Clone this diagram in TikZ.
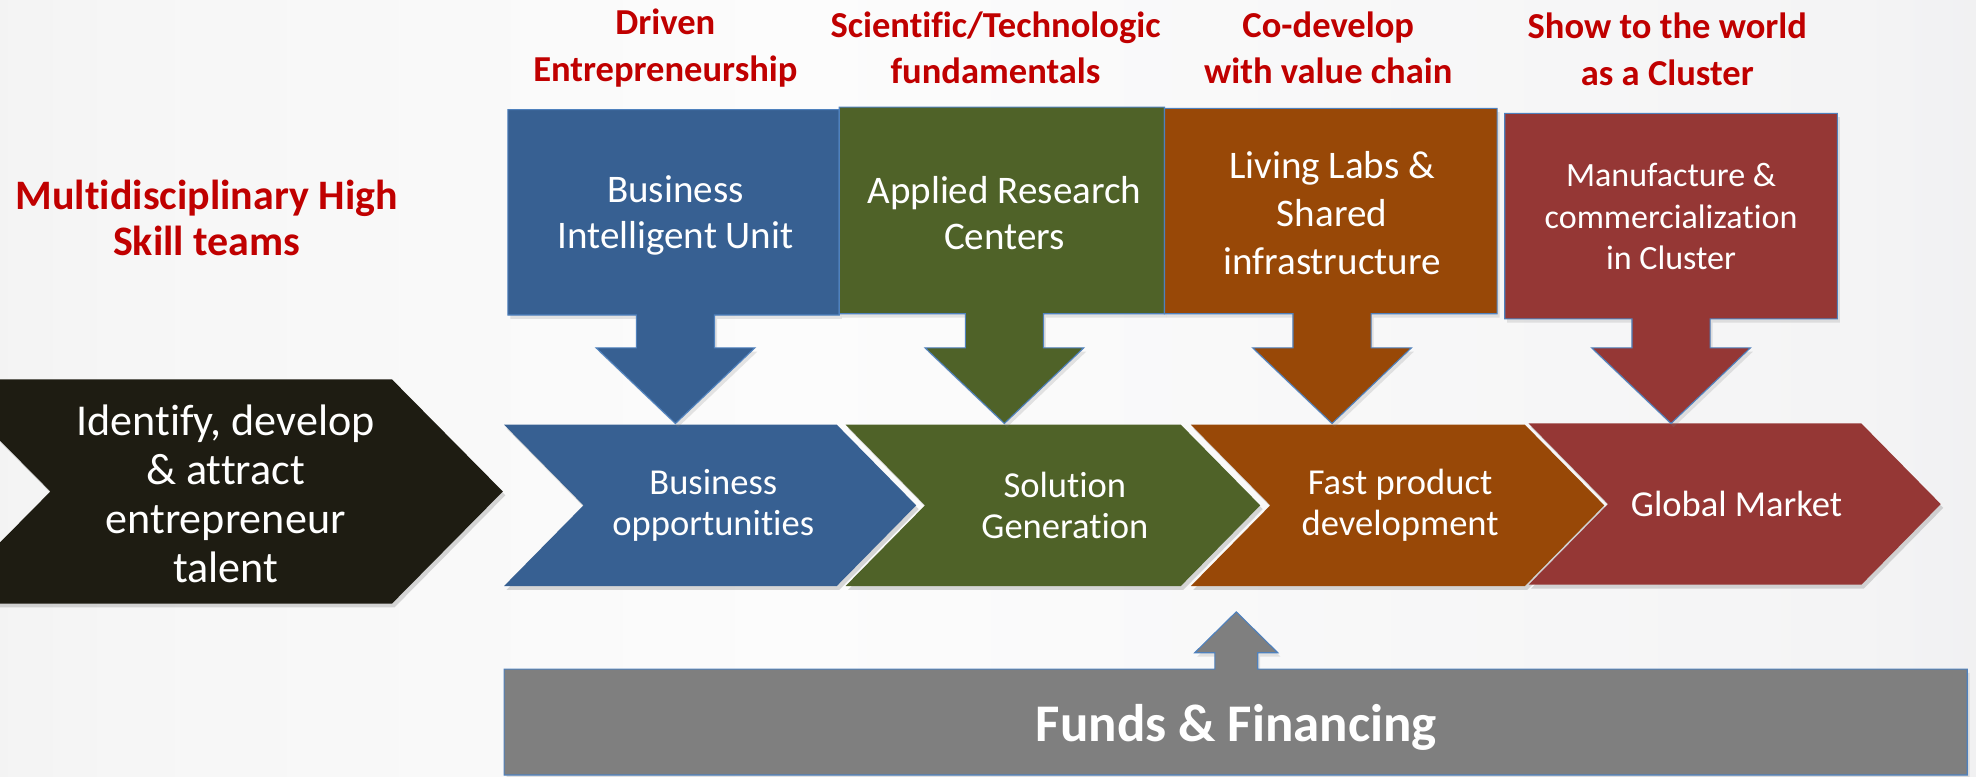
\documentclass[tikz,border=0pt]{standalone}
\usepackage{fontspec}
\setmainfont{Carlito}[Ligatures=NoCommon]
\usetikzlibrary{shadows}
\definecolor{cblue}{HTML}{376092}
\definecolor{cgreen}{HTML}{4F6228}
\definecolor{corange}{HTML}{984807}
\definecolor{cred}{HTML}{953735}
\definecolor{cblack}{HTML}{1E1C12}
\definecolor{cgray}{HTML}{7F7F7F}
\definecolor{bordblue}{HTML}{4F81BD}
\definecolor{hdrred}{HTML}{C00000}
\definecolor{bga}{HTML}{DDDDDD}
\definecolor{bgb}{HTML}{F6F6F6}
\definecolor{bgc}{HTML}{FCFCFC}
\definecolor{bgd}{HTML}{F4F4F5}
\definecolor{bge}{HTML}{D6D7DB}
\pgfdeclarehorizontalshading{bgshade}{100bp}{color(0bp)=(bga); color(28bp)=(bgb); color(45bp)=(bgc); color(72bp)=(bgd); color(100bp)=(bge)}
\tikzset{
  chev/.style={fill=#1, drop shadow={opacity=0.3, shadow xshift=2pt, shadow yshift=-3pt}},
  callout/.style={fill=#1, draw=bordblue, line width=0.9pt, drop shadow={opacity=0.2, shadow xshift=2pt, shadow yshift=-3pt}},
  wtext/.style={text=white, align=center, inner sep=0pt},
  hdr/.style={text=hdrred, align=center, inner sep=0pt, font={\bfseries\fontsize{29}{37}\selectfont}},
  boxfont/.style={font={\fontsize{31}{37}\selectfont}},
  chevfont/.style={font={\fontsize{29}{32}\selectfont}}
}
\newcommand\mychev[6]{%
  \fill[chev=#6] (#1,#4) -- (#2,#4) -- ({#2+#3},{(#4+#5)/2}) -- (#2,#5) -- (#1,#5) -- ({#1+#3},{(#4+#5)/2}) -- cycle;}
\newcommand\mycallout[6]{%
  \path[callout=#6] (#1,#3) -- (#2,#3) -- (#2,#4) -- ({#5+31},#4) -- ({#5+31},276) -- ({#5+63},276) -- (#5,336) -- ({#5-63},276) -- ({#5-31},276) -- ({#5-31},#4) -- (#1,#4) -- cycle;}
\begin{document}
\begin{tikzpicture}[x=1pt,y=-1pt]
\useasboundingbox (0,0) rectangle (1568,616);
\clip (0,0) rectangle (1568,616);
\shade[shading=bgshade] (0,0) rectangle (1568,616);

% header labels
\node[hdr, font={\bfseries\fontsize{33.3}{37}\selectfont}] (h0) at (164,173) {Multidisciplinary High\\Skill teams};
\node[hdr] (h1) at (528,38) {Driven\\Entrepreneurship};
\node[hdr] (h2) at (790,38) {Scientific/Technologic\\fundamentals};
\node[hdr] (h3) at (1054,38) {Co-develop\\with value chain};
\node[hdr] (h4) at (1323,39) {Show to the world\\as a Cluster};

% chevrons
\mychev{-48}{311}{88}{301}{479}{cblack}
\mychev{400}{664}{63}{337}{465}{cblue}
\mychev{671}{937}{63}{337}{465}{cgreen}
\mychev{945}{1210}{63}{337}{465}{corange}
\mychev{1213}{1477}{63}{336}{464}{cred}

% callouts
\mycallout{403}{666}{87}{250}{536}{cblue}
\mycallout{666}{924}{85}{249}{797}{cgreen}
\mycallout{924}{1188}{86}{249}{1057}{corange}
\mycallout{1194}{1458}{90}{253}{1326}{cred}

% funds box with up arrow
\path[callout=cgray] (400,531) -- (964,531) -- (964,518) -- (948,518) -- (981,485.5) -- (1014,518) -- (998,518) -- (998,531) -- (1561,531) -- (1561,615) -- (400,615) -- cycle;

% texts
\node[wtext, font={\fontsize{35}{39}\selectfont}] (t0) at (179,392) {Identify, develop\\\& attract\\entrepreneur\\talent};
\node[wtext, boxfont] (b1) at (536,171) {Business\\Intelligent Unit};
\node[wtext, boxfont] (b2) at (797,169) {Applied Research\\Centers};
\node[wtext, font={\fontsize{31}{38}\selectfont}] (b3) at (1057,169) {Living Labs \&\\Shared\\infrastructure};
\node[wtext, font={\fontsize{27}{33}\selectfont}] (b4) at (1326,172) {Manufacture \&\\commercialization\\in Cluster};
\node[wtext, chevfont] (c1) at (566,401) {Business\\opportunities};
\node[wtext, chevfont] (c2) at (845,401) {Solution\\Generation};
\node[wtext, chevfont] (c3) at (1111,401) {Fast product\\development};
\node[wtext, chevfont] (c4) at (1378,400) {Global Market};
\node[wtext, font={\bfseries\fontsize{42}{44}\selectfont}] (f) at (981,577) {Funds \& Financing};
\end{tikzpicture}
\end{document}
